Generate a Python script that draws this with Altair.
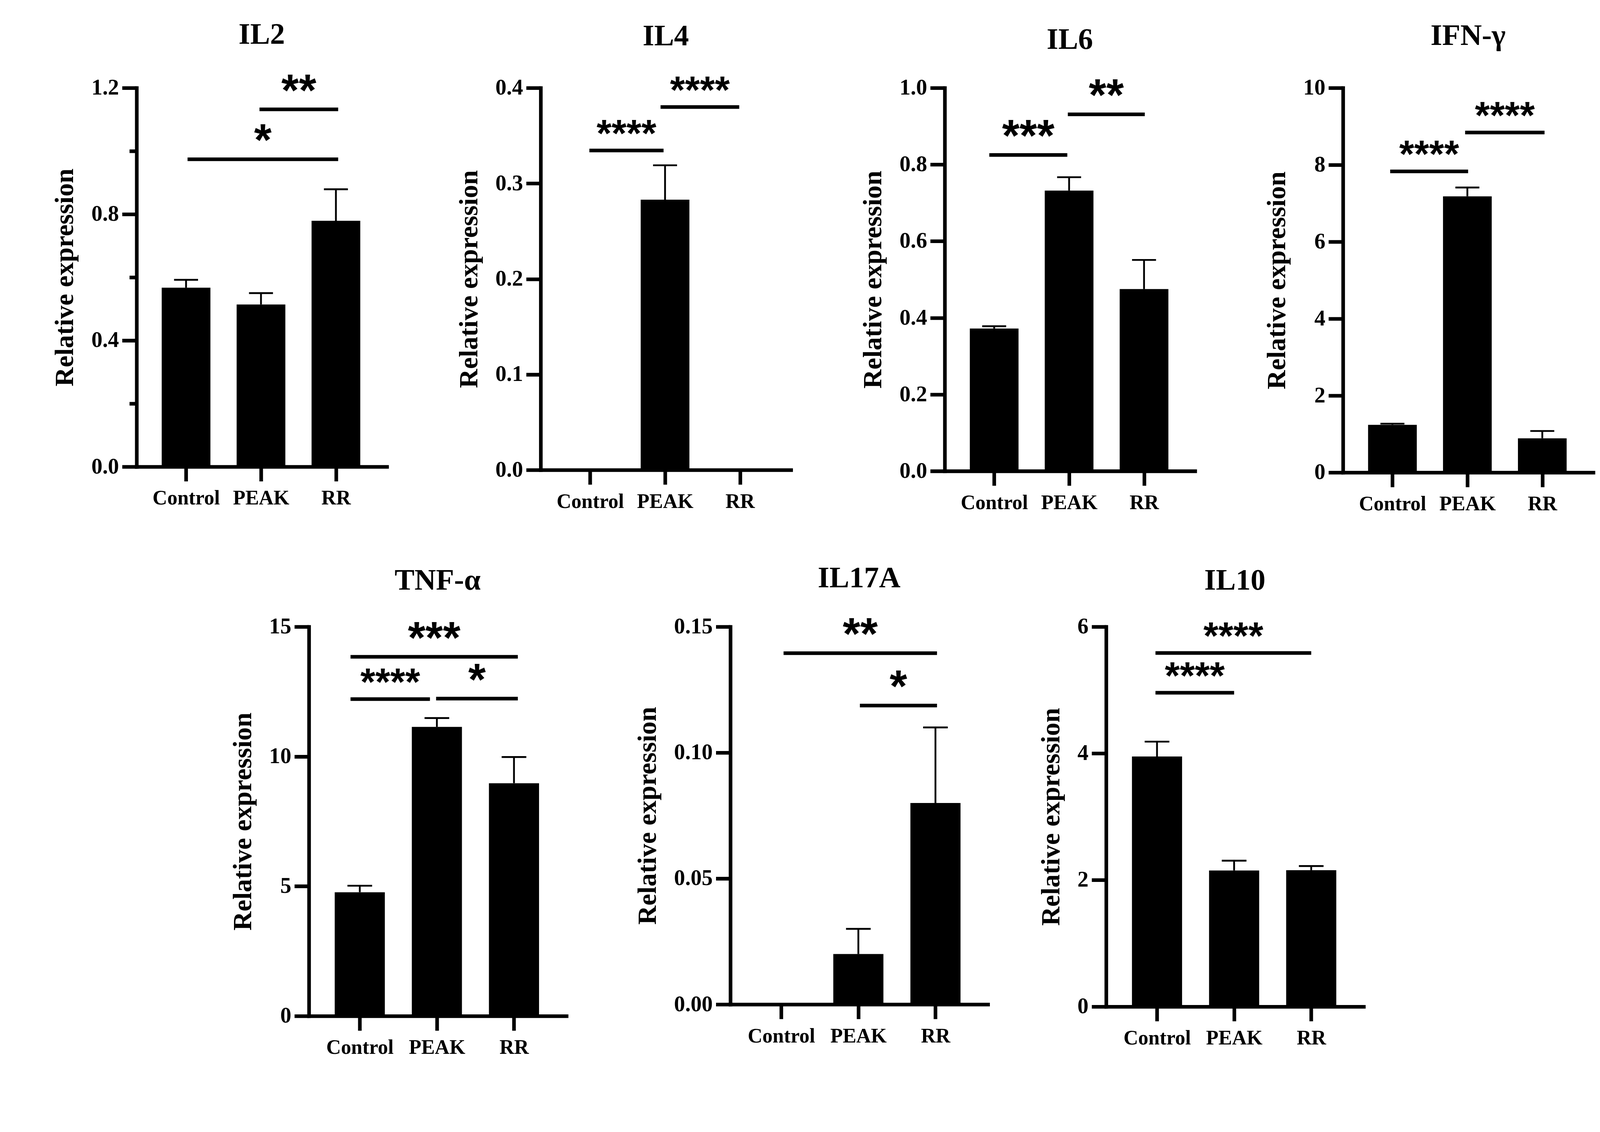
import json
import altair as alt
import pandas as pd

# ---------------- data ----------------
CATEGORIES = ["Control", "PEAK", "RR"]

IL2_MEAN = [0.567, 0.514, 0.779]
IL2_SEM = [0.025, 0.036, 0.100]
IL4_MEAN = [0.0, 0.283, 0.0]
IL4_SEM = [0.0, 0.036, 0.0]
IL6_MEAN = [0.372, 0.732, 0.475]
IL6_SEM = [0.006, 0.035, 0.076]
IFN_MEAN = [1.24, 7.18, 0.89]
IFN_SEM = [0.03, 0.23, 0.19]
TNF_MEAN = [4.77, 11.14, 8.97]
TNF_SEM = [0.25, 0.34, 1.01]
IL17A_MEAN = [0.0, 0.020, 0.080]
IL17A_SEM = [0.0, 0.010, 0.030]
IL10_MEAN = [3.95, 2.15, 2.155]
IL10_SEM = [0.235, 0.155, 0.065]

# significance brackets: (from category index, to category index, height, label)
IL2_SIG = [(0.98, 2.03, 1.132, "**"), (0.02, 2.03, 0.974, "*")]
IL4_SIG = [(-0.01, 0.98, 0.3345, "****"), (0.94, 1.99, 0.380, "****")]
IL6_SIG = [(-0.065, 0.976, 0.825, "***"), (0.983, 2.01, 0.931, "**")]
IFN_SIG = [(-0.03, 1.01, 7.83, "****"), (0.97, 2.03, 8.84, "****")]
TNF_SIG = [(-0.12, 2.05, 13.84, "***"), (-0.12, 0.91, 12.21, "****"), (0.99, 2.05, 12.23, "*")]
IL17A_SIG = [(0.03, 2.02, 0.1395, "**"), (1.02, 2.02, 0.1187, "*")]
IL10_SIG = [(-0.02, 2.0, 5.585, "****"), (-0.02, 1.0, 4.957, "****")]

# y-axis ticks
IL2_TICKS = [0.0, 0.4, 0.8, 1.2]
IL2_MINOR = [0.2, 0.6, 1.0]
IL4_TICKS = [0.0, 0.1, 0.2, 0.3, 0.4]
IL6_TICKS = [0.0, 0.2, 0.4, 0.6, 0.8, 1.0]
IFN_TICKS = [0, 2, 4, 6, 8, 10]
TNF_TICKS = [0, 5, 10, 15]
IL17A_TICKS = [0.0, 0.05, 0.10, 0.15]
IL10_TICKS = [0, 2, 4, 6]

SERIF = "Liberation Serif"
SANS = "Liberation Sans"


def panel(name, mean, sem, sig, ticks, fmt, w, h, minor=(), title_offset=54):
    bars = pd.DataFrame({"cat": CATEGORIES, "pos": list(range(len(CATEGORIES))),
                         "mean": mean, "sem": sem})
    sigdf = pd.DataFrame(sig, columns=["xa", "xb", "y", "label"])

    xs = alt.Scale(domain=[-0.66, 2.68], nice=False, zero=False)
    ys = alt.Scale(domain=[0, max(ticks)], nice=False, zero=True)

    xaxis = alt.Axis(values=[0, 1, 2], title=None,
                     labelExpr=json.dumps(CATEGORIES) + "[datum.value]",
                     tickSize=40, labelFontSize=56, labelPadding=20, labelLimit=600,
                     labelFont=SERIF, labelFontWeight="bold", labelColor="black")
    all_ticks = sorted(list(ticks) + list(minor))
    yargs = dict(values=all_ticks, format=fmt, title="Relative expression",
                 tickSize=40, labelFontSize=61, labelPadding=9,
                 labelFont=SERIF, labelFontWeight="bold", labelColor="black",
                 titleFont=SERIF, titleFontWeight="bold", titleFontSize=73,
                 titlePadding=35, titleColor="black")
    if minor:
        test = "indexof(" + json.dumps(list(minor)) + ", datum.value) >= 0"
        yargs["labelExpr"] = test + " ? '' : datum.label"
        yargs["tickSize"] = {"condition": {"test": test, "value": 20}, "value": 40}
    yaxis = alt.Axis(**yargs)

    def X(f):
        return alt.X(f, type="quantitative", scale=xs, axis=xaxis)

    def Y(f):
        return alt.Y(f, type="quantitative", scale=ys, axis=yaxis)

    base = alt.Chart(bars)
    b = base.transform_calculate(
        xl="datum.pos - 0.325", xr="datum.pos + 0.325", zero="0"
    ).mark_bar(color="black").encode(x=X("xl"), x2="xr:Q", y=Y("mean"), y2="zero:Q")

    err = base.transform_filter("datum.sem > 0").transform_calculate(
        top="datum.mean + datum.sem", cl="datum.pos - 0.16", cr="datum.pos + 0.16")
    vline = err.mark_rule(color="black", strokeWidth=5).encode(
        x=X("pos"), y=Y("mean"), y2="top:Q")
    cap = err.mark_rule(color="black", strokeWidth=5).encode(
        x=X("cl"), x2="cr:Q", y=Y("top"))

    s = alt.Chart(sigdf)
    lines = s.mark_rule(color="black", strokeWidth=10, strokeCap="butt").encode(
        x=X("xa"), x2="xb:Q", y=Y("y"))
    stars = s.transform_calculate(xm="(datum.xa + datum.xb) / 2").mark_text(
        font=SANS, fontWeight="bold", baseline="alphabetic", dy=-11, color="black"
    ).encode(
        x=X("xm"), y=Y("y"), text="label:N",
        size=alt.condition("length(datum.label) >= 4", alt.value(106), alt.value(124)))

    return alt.layer(b, vline, cap, lines, stars).properties(
        width=w, height=h,
        title=alt.TitleParams(name, font=SERIF, fontWeight="bold", fontSize=82,
                              anchor="middle", frame="group", offset=title_offset,
                              color="black"))


W1 = 690
W2 = 710
p_il2 = panel("IL2", IL2_MEAN, IL2_SEM, IL2_SIG, IL2_TICKS, ".1f", W1, 1044, minor=IL2_MINOR)
p_il4 = panel("IL4", IL4_MEAN, IL4_SEM, IL4_SIG, IL4_TICKS, ".1f", W1, 1053, title_offset=57)
p_il6 = panel("IL6", IL6_MEAN, IL6_SEM, IL6_SIG, IL6_TICKS, ".1f", W1, 1056)
p_ifn = panel("IFN-γ", IFN_MEAN, IFN_SEM, IFN_SIG, IFN_TICKS, "d", W1, 1060, title_offset=70)
p_tnf = panel("TNF-α", TNF_MEAN, TNF_SEM, TNF_SIG, TNF_TICKS, "d", W2, 1073)
p_il17 = panel("IL17A", IL17A_MEAN, IL17A_SEM, IL17A_SIG, IL17A_TICKS, ".2f", W2, 1041)
p_il10 = panel("IL10", IL10_MEAN, IL10_SEM, IL10_SIG, IL10_TICKS, "d", W2, 1047)

# invisible spacer that shifts the second row to the right
SPACER = pd.DataFrame({"v": [0]})
spacer = alt.Chart(SPACER).mark_point(opacity=0).encode(
    x=alt.X("v:Q", axis=None), y=alt.Y("v:Q", axis=None)
).properties(width=69, height=10)

row1 = alt.hconcat(p_il2, p_il4, p_il6, p_ifn, spacing=190)
row2 = alt.hconcat(spacer, p_tnf, alt.hconcat(p_il17, p_il10, spacing=138), spacing=188)

chart = alt.vconcat(row1, row2, spacing=135).properties(
    padding={"left": 134, "top": -62, "right": 10, "bottom": 0},
    background="white",
).configure_view(stroke=None).configure_axis(
    grid=False, domainColor="black", domainWidth=10, domainCap="square",
    tickColor="black", tickWidth=10,
)

chart.save("out.html", embed_options={"renderer": "svg", "actions": False})
